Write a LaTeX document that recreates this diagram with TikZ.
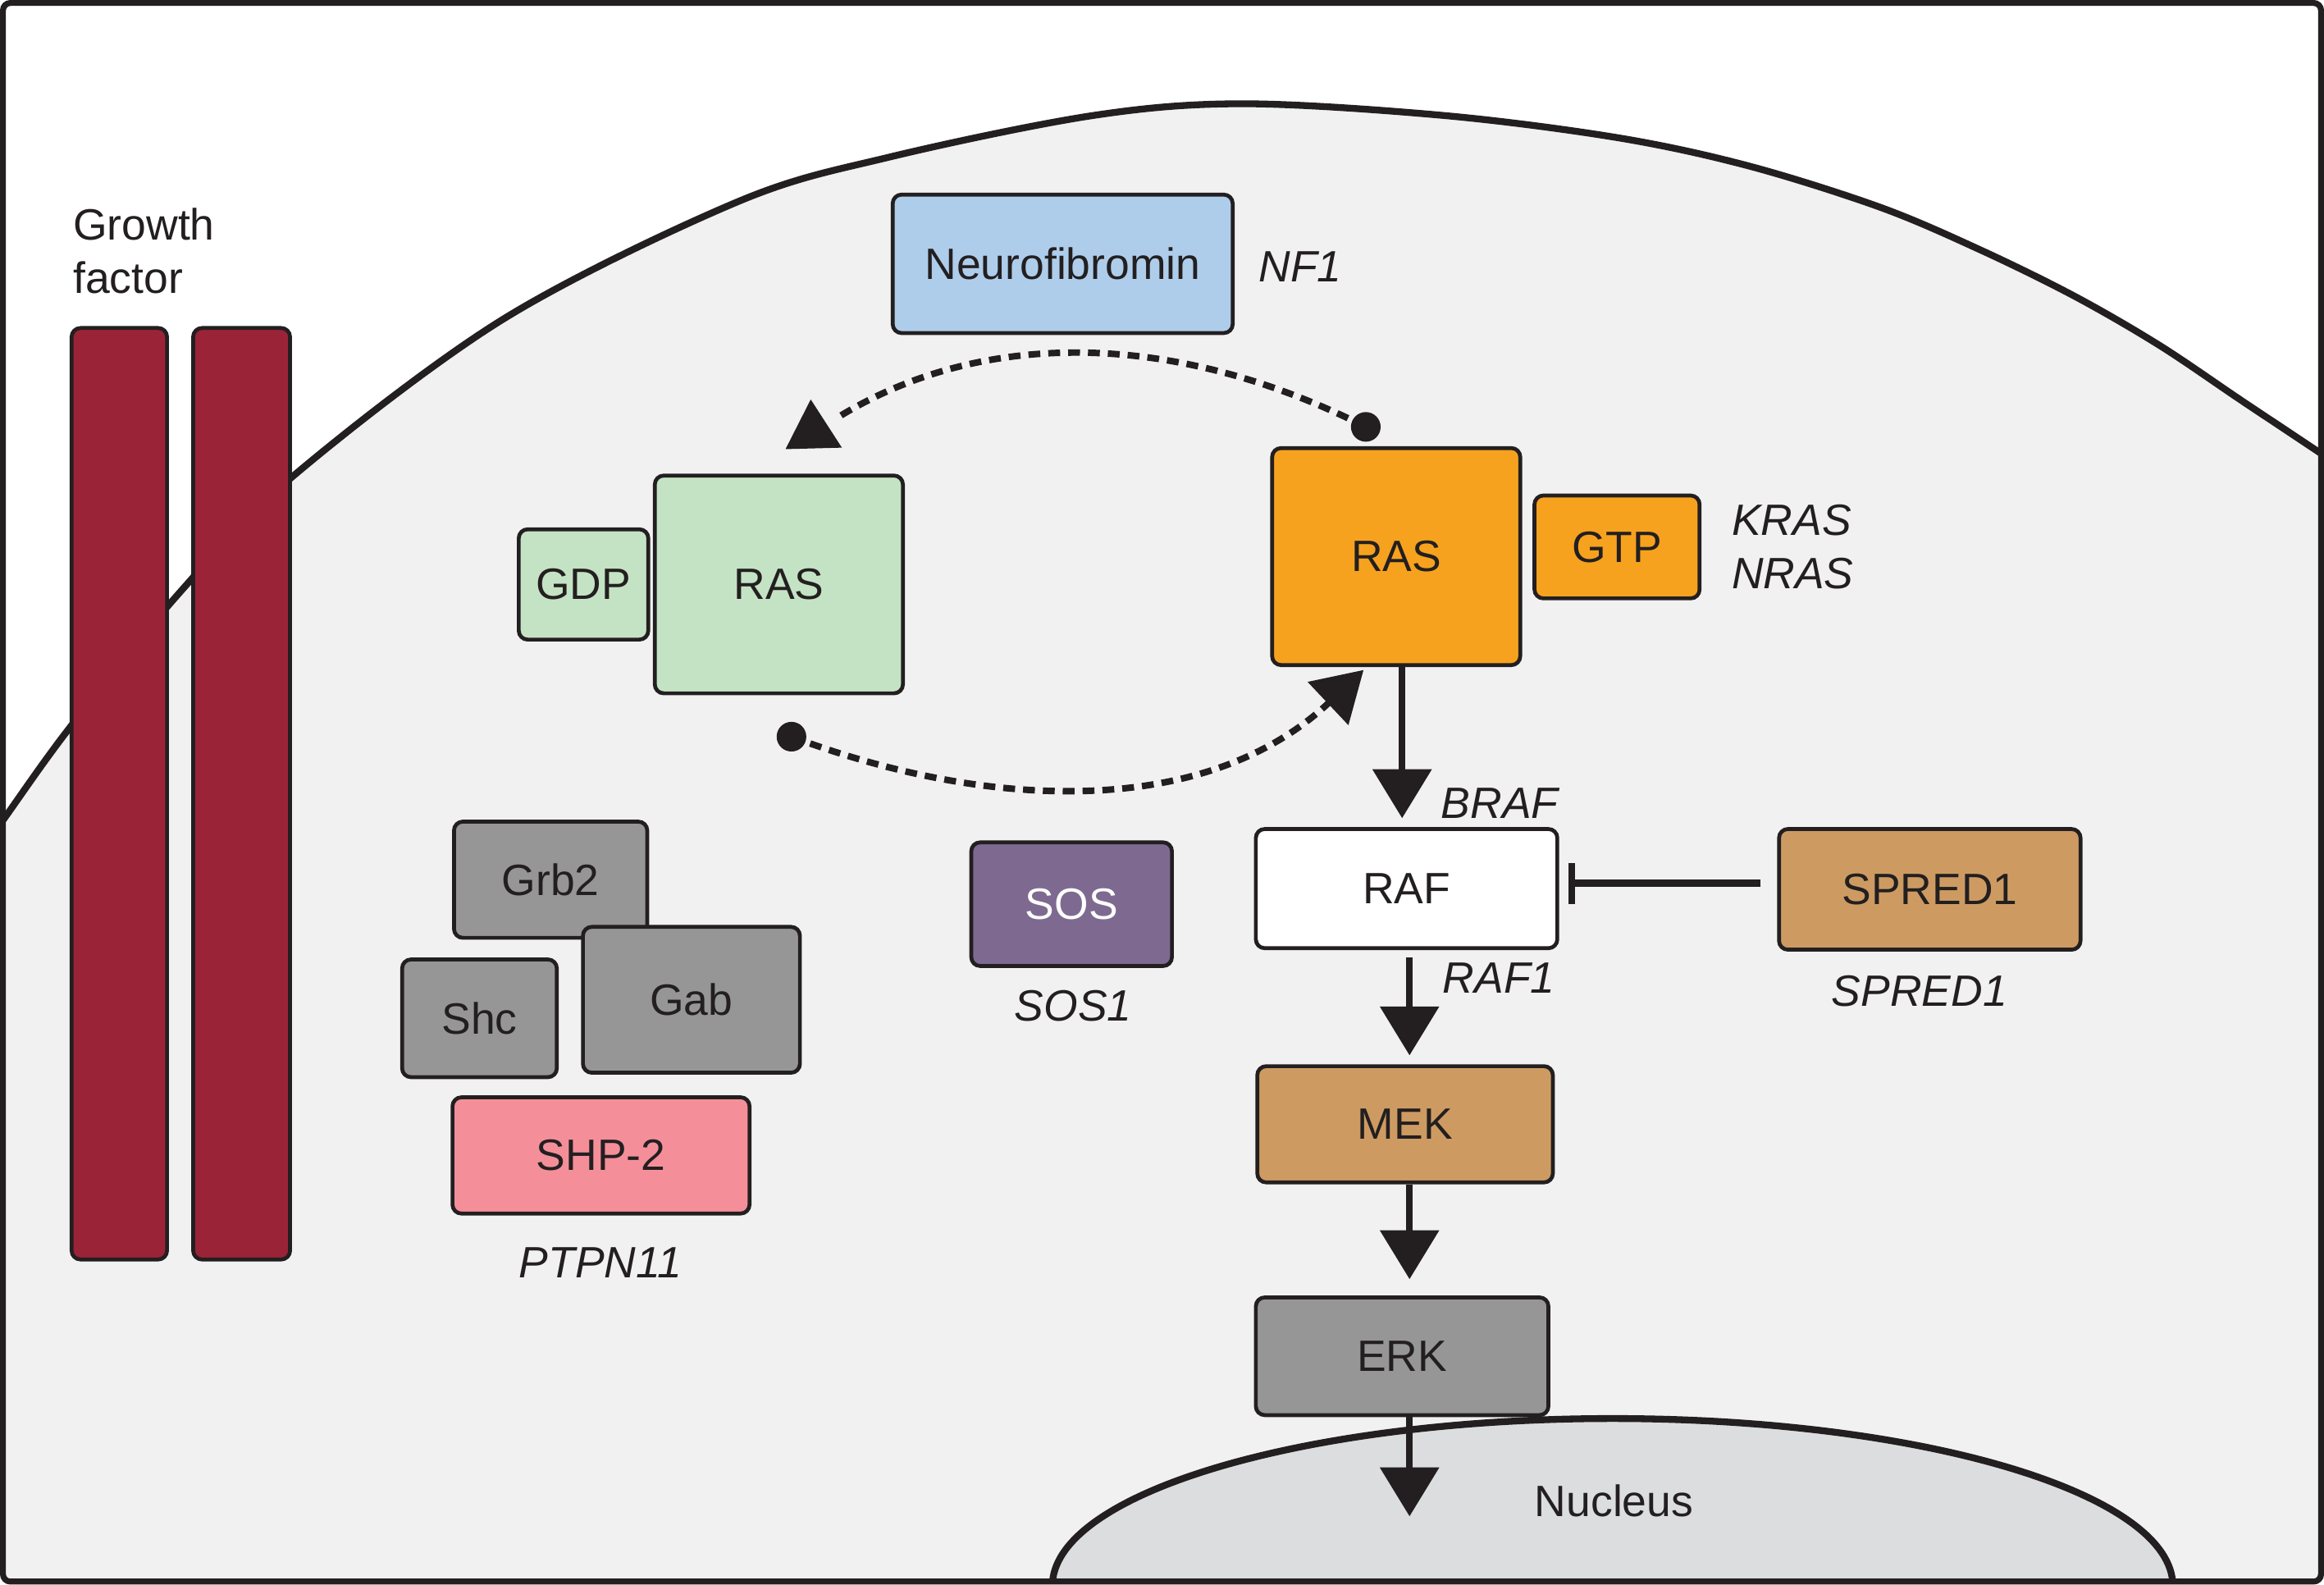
\documentclass[tikz,border=0pt]{standalone}
\usepackage{fontspec}
\setmainfont{Liberation Sans}
\usetikzlibrary{arrows.meta,calc}
\definecolor{ink}{HTML}{231F20}
\definecolor{cellgrey}{HTML}{F1F1F1}
\definecolor{nucgrey}{HTML}{DCDDDF}
\definecolor{receptor}{HTML}{9B2338}
\definecolor{nfblue}{HTML}{AECDEB}
\definecolor{rasgreen}{HTML}{C4E3C4}
\definecolor{rasorange}{HTML}{F7A21E}
\definecolor{tan}{HTML}{CD9B62}
\definecolor{midgrey}{HTML}{969696}
\definecolor{sospurple}{HTML}{7E6A91}
\definecolor{shppink}{HTML}{F48F9A}
\newcommand\myfs{\fontsize{14.8}{18}\selectfont}
\begin{document}
\begin{tikzpicture}[x=0.5pt,y=-0.5pt,
  box/.style={draw=ink, line width=1.3pt, rounded corners=3pt, inner sep=0pt, font=\myfs, text=ink, align=center},
  rec/.style={draw=ink, fill=receptor, line width=1.3pt, rounded corners=3pt, inner sep=0pt, minimum height=314.2pt},
  lbl/.style={font=\myfs\itshape, text=ink, inner sep=0pt},
  plain/.style={font=\myfs, text=ink, inner sep=0pt},
  arr/.style={draw=ink, line width=2.3pt, -{Triangle[length=16.5pt,width=19.5pt]}},
  inh/.style={draw=ink, line width=2.4pt, -{Bar[width=14pt]}},
  dsh/.style={draw=ink, line width=2.2pt, dash pattern=on 4pt off 2.7pt},
  dot/.style={circle, fill=ink, minimum size=10pt, inner sep=0pt},
  membrane/.style={draw=ink, line width=2.3pt}
]
\useasboundingbox (0,0) rectangle (1568,1069);
% background and cell
\begin{scope}
  \clip (2,2) rectangle (1566,1067);
  \fill[white] (0,0) rectangle (1568,1069);
  \fill[cellgrey] plot[smooth, tension=0.55] coordinates {(-10,570) (3,552) (47,491) (121,400) (198,321) (340,215) (498,136) (600,106) (737,78) (839,70) (975,78) (1092,93) (1180,112) (1269,140) (1337,169) (1400,200) (1457,233) (1512,270) (1566,306) (1580,316)} -- (1580,1080) -- (-10,1080) -- cycle;
  \draw[membrane] plot[smooth, tension=0.55] coordinates {(-10,570) (3,552) (47,491) (121,400) (198,321) (340,215) (498,136) (600,106) (737,78) (839,70) (975,78) (1092,93) (1180,112) (1269,140) (1337,169) (1400,200) (1457,233) (1512,270) (1566,306) (1580,316)};
  \draw[membrane, fill=nucgrey] (1088,1070) ellipse [x radius=378, y radius=113];
\end{scope}
% receptors
\node[rec, minimum width=32.2pt] (r1) at (80.5,535.5) {};
\node[rec, minimum width=32.7pt] (r2) at (163,535.5) {};
\node[plain, align=left, anchor=north west] (gf) at (49,140) {Growth\\factor};
% boxes
\node[box, fill=nfblue, minimum width=114.7pt, minimum height=46.7pt] (nf) at (717,178) {Neurofibromin};
\node[lbl, anchor=base west] (nf1) at (849,190) {NF1};
\node[box, fill=rasgreen, minimum width=43.7pt, minimum height=37.2pt] (gdp) at (393.7,394.3) {GDP};
\node[box, fill=rasgreen, minimum width=83.7pt, minimum height=73.45pt] (rasg) at (525.5,394.3) {RAS};
\node[box, fill=rasorange, minimum width=83.7pt, minimum height=73.2pt] (raso) at (942,375.5) {RAS};
\node[box, fill=rasorange, minimum width=55.7pt, minimum height=34.7pt] (gtp) at (1091,369) {GTP};
\node[lbl, anchor=base west] (kras) at (1168,361) {KRAS};
\node[lbl, anchor=base west] (nras) at (1168,397) {NRAS};
\node[box, fill=white, minimum width=101.7pt, minimum height=40.2pt] (raf) at (949,599.5) {RAF};
\node[lbl, anchor=base west] (braf) at (972,552) {BRAF};
\node[lbl, anchor=base west] (raf1) at (973,670) {RAF1};
\node[box, fill=tan, minimum width=101.7pt, minimum height=40.7pt] (spred) at (1302,600) {SPRED1};
\node[lbl, anchor=base] (spredg) at (1295,679) {SPRED1};
\node[box, fill=tan, minimum width=99.7pt, minimum height=39.2pt] (mek) at (948,758.5) {MEK};
\node[box, fill=midgrey, minimum width=98.7pt, minimum height=39.7pt] (erk) at (946,915) {ERK};
\node[box, fill=sospurple, text=white, minimum width=67.7pt, minimum height=41.7pt] (sos) at (723,610) {SOS};
\node[lbl, anchor=base] (sos1) at (724,689) {SOS1};
\node[box, fill=midgrey, minimum width=65.2pt, minimum height=39.2pt] (grb2) at (371.5,593.5) {Grb2};
\node[box, fill=midgrey, minimum width=52.2pt, minimum height=39.7pt] (shc) at (323.5,687) {Shc};
\node[box, fill=midgrey, minimum width=73.2pt, minimum height=49.2pt] (gab) at (466.5,674.5) {Gab};
\node[box, fill=shppink, minimum width=100.2pt, minimum height=39.2pt] (shp) at (405.5,779.5) {SHP-2};
\node[lbl, anchor=base] (ptpn) at (405,862) {PTPN11};
\node[plain, anchor=base] (nuc) at (1089,1023) {Nucleus};
% cascade arrows
\coordinate (colA) at (946,0);
\coordinate (colB) at (951,0);
\coordinate (nucend) at (951,1023);
\draw[arr] (raso.south -| colA) -- ($(raf.north -| colA)+(0,-6)$);
\draw[arr] ($(raf.south -| colB)+(0,5)$) -- ($(mek.north -| colB)+(0,-6)$);
\draw[arr] (mek.south -| colB) -- ($(erk.north -| colB)+(0,-11)$);
\draw[arr] (erk.south -| colB) -- (nucend);
\draw[inh] ($(spred.west)+(-11,-4)$) -- ($(raf.east |- spred.west)+(6,-4)$);
% RAS cycle
\node[dot] (d1) at (921.5,288) {};
\node[dot] (d2) at (534,497) {};
\coordinate (t1) at (547,269.5);
\coordinate (e1) at (563,283);
\coordinate (t2) at (920,452);
\draw[dsh] (d1.center) .. controls (790,222) and (660,222) .. (e1);
\fill[ink] (t1) -- ($(t1)+(-17,33.5)$) -- ($(t1)+(21,32.5)$) -- cycle;
\draw[dsh, -{Triangle[length=16.5pt,width=19.5pt]}] (d2.center) .. controls (670,548) and (815,551) .. (t2);
% frame
\draw[ink, line width=2pt, rounded corners=2.5pt] (2,2) rectangle (1566,1067);
\end{tikzpicture}
\end{document}
